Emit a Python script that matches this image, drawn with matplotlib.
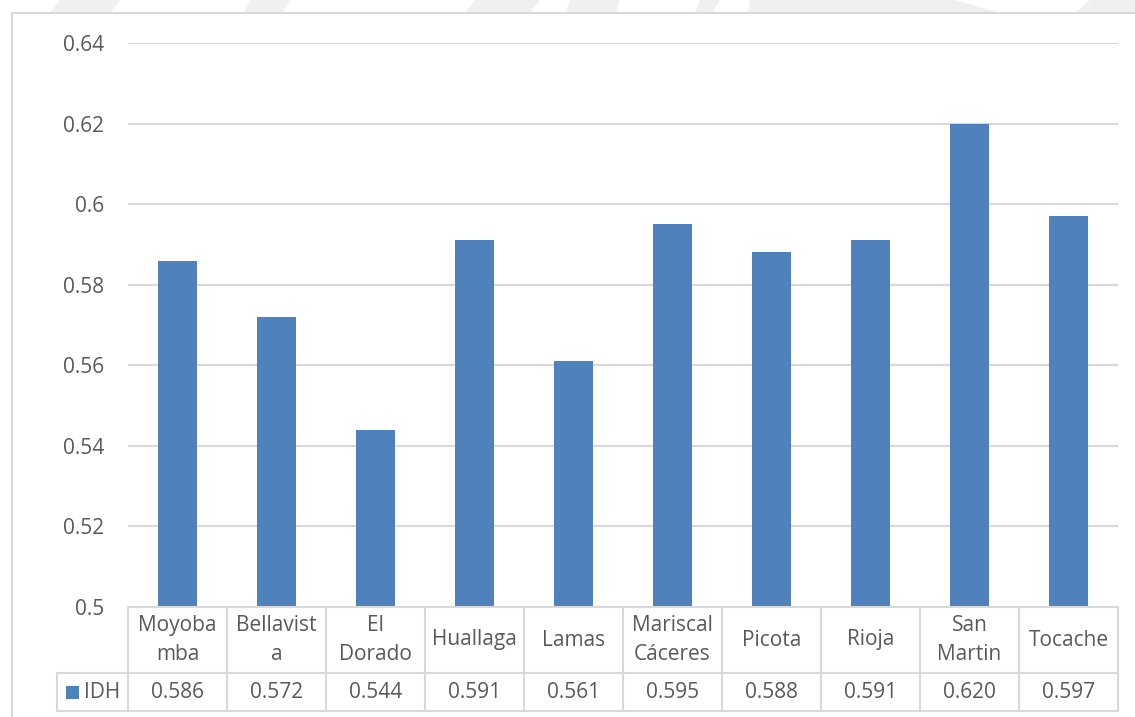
import matplotlib.pyplot as plt
from matplotlib.patches import Polygon, Rectangle

plt.rcParams['font.family'] = ['Open Sans', 'DejaVu Sans']

provincias = ['Moyoba\nmba', 'Bellavist\na', 'El\nDorado', 'Huallaga', 'Lamas',
              'Mariscal\nCáceres', 'Picota', 'Rioja', 'San\nMartin', 'Tocache']
idh = [0.586, 0.572, 0.544, 0.591, 0.561, 0.595, 0.588, 0.591, 0.620, 0.597]
serie = 'IDH'
yticks = [0.5, 0.52, 0.54, 0.56, 0.58, 0.6, 0.62, 0.64]
ytick_labels = ['0.5', '0.52', '0.54', '0.56', '0.58', '0.6', '0.62', '0.64']

W, H = 1135, 717
azul = '#4f81bd'
gris = '#d9d9d9'
texto = '#595959'
fs = 15

fig = plt.figure(figsize=(W / 100, H / 100), dpi=100)
fig.patch.set_facecolor('white')

# faint background watermark along the top edge
for pts in [[(60, 0), (120, 0), (110, 13), (50, 13)],
            [(250, 0), (290, 0), (282, 13), (244, 13)],
            [(475, 0), (540, 0), (530, 13), (465, 13)],
            [(570, 0), (620, 0), (616, 13), (566, 13)],
            [(700, 0), (720, 0), (712, 13), (695, 13)],
            [(750, 0), (955, 0), (1000, 13), (748, 13)],
            [(1090, 0), (1135, 0), (1135, 13), (1075, 13)]]:
    fig.patches.append(Polygon([(x / W, 1 - y / H) for x, y in pts], closed=True,
                               transform=fig.transFigure, facecolor='#f0f0f0',
                               edgecolor='none', zorder=0))

# chart area border
fig.patches.append(Rectangle((12 / W, -0.05), 1.2, 1 - 13 / H + 0.05,
                             transform=fig.transFigure, facecolor='white',
                             edgecolor=gris, linewidth=1.5, zorder=1))

left, right, top, bottom = 128, 1118, 43, 607
ax = fig.add_axes([left / W, 1 - bottom / H, (right - left) / W, (bottom - top) / H])
ax.set_zorder(2)
ax.patch.set_alpha(0)

x = list(range(len(provincias)))
ax.bar(x, [v - 0.5 for v in idh], bottom=0.5, width=0.4, color=azul, zorder=3)

ax.set_xlim(-0.5, len(provincias) - 0.5)
ax.set_ylim(0.5, 0.64)
ax.set_yticks(yticks)
ax.set_yticklabels(ytick_labels)
ax.tick_params(axis='y', length=0, pad=17, labelsize=fs, labelcolor=texto)
ax.tick_params(axis='x', length=0, labelbottom=False)
ax.grid(axis='y', color=gris, linewidth=1.5, zorder=0)
for s in ax.spines.values():
    s.set_visible(False)

# data table beneath the plot
ph = bottom - top
cw = (right - left) / len(provincias)
r1 = -66 / ph
r2 = -104 / ph
x_leg = -0.5 - (left - 57) / cw
tab = ax.get_xaxis_transform()
kw = dict(color=gris, linewidth=1.5, transform=tab, clip_on=False, zorder=4)
ax.plot([-0.5, len(provincias) - 0.5], [0, 0], **kw)
ax.plot([x_leg, len(provincias) - 0.5], [r1, r1], **kw)
ax.plot([x_leg, len(provincias) - 0.5], [r2, r2], **kw)
for i in range(len(provincias) + 1):
    ax.plot([i - 0.5, i - 0.5], [0, r2], **kw)
ax.plot([x_leg, x_leg], [r1, r2], **kw)

for i, (p, v) in enumerate(zip(provincias, idh)):
    ax.text(i, r1 / 2, p, transform=tab, ha='center', va='center', fontsize=fs,
            color=texto, linespacing=1.45, clip_on=False)
    ax.text(i, (r1 + r2) / 2, f'{v:.3f}', transform=tab, ha='center', va='center',
            fontsize=fs, color=texto, clip_on=False)

ym = (r1 + r2) / 2
ax.add_patch(Rectangle((x_leg + 9 / cw, ym - 6.5 / ph), 13 / cw, 13 / ph,
                       transform=tab, facecolor=azul, clip_on=False, zorder=5))
ax.text(x_leg + 27 / cw, ym, serie, transform=tab, ha='left', va='center',
        fontsize=fs, color=texto, clip_on=False)

fig.savefig('out.png', dpi=100)
